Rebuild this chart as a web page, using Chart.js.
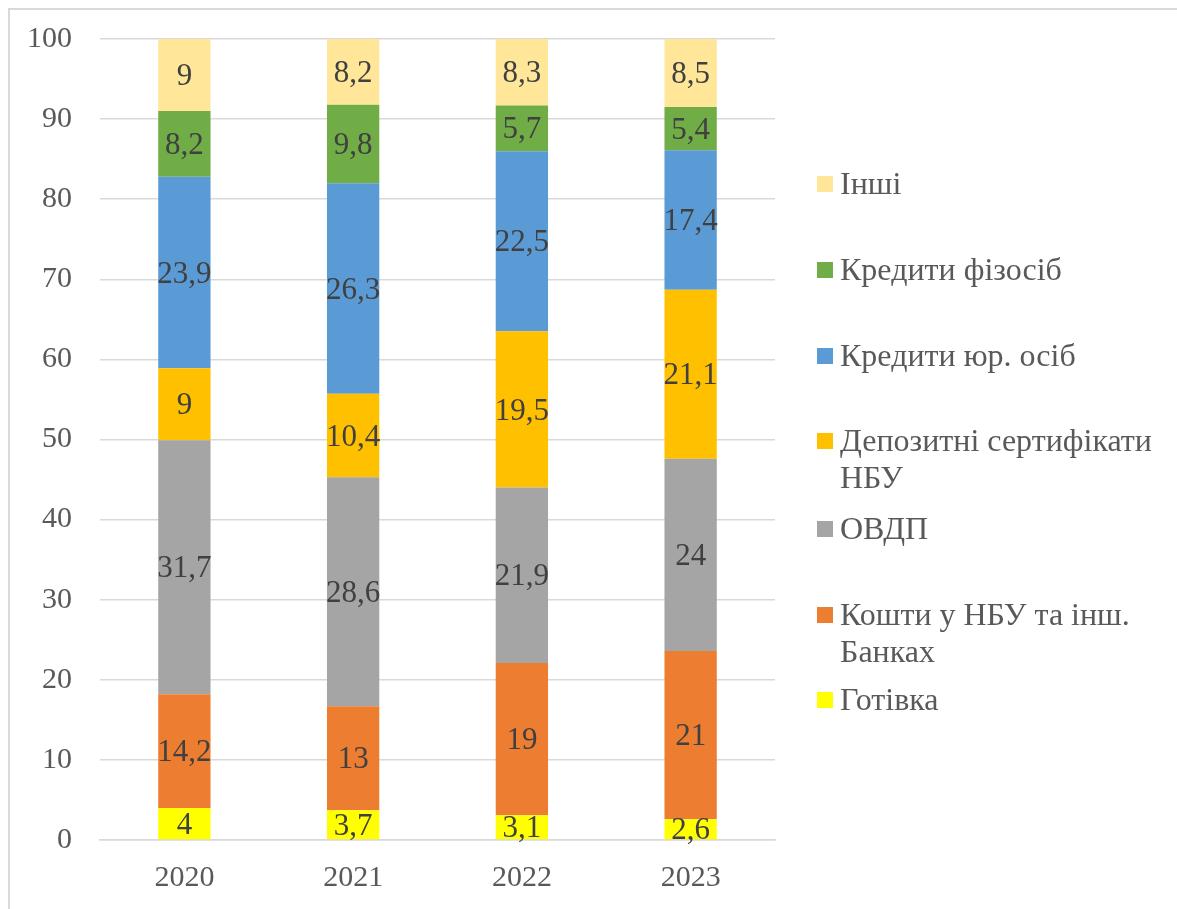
<!DOCTYPE html>
<html>
<head>
<meta charset="utf-8">
<script src="https://cdn.jsdelivr.net/npm/chart.js@4.4.0/dist/chart.umd.min.js"></script>
<style>
  html, body { margin: 0; padding: 0; background: #fff; overflow: hidden; }
  #wrap { position: relative; width: 1177px; height: 909px; }
  #frame { position: absolute; left: 8px; top: 8px; width: 1200px; height: 950px; border: 2px solid #d9d9d9; box-sizing: border-box; }
  canvas { position: absolute; left: 0; top: 0; }
</style>
</head>
<body>
<div id="wrap">
  <div id="frame"></div>
  <canvas id="myChart" width="1177" height="909"></canvas>
</div>
<script>
// categories and series (percent of assets)
const years = ["2020", "2021", "2022", "2023"];
const cash = [4, 3.7, 3.1, 2.6];
const nbuFunds = [14.2, 13, 19, 21];
const bonds = [31.7, 28.6, 21.9, 24];
const certificates = [9, 10.4, 19.5, 21.1];
const corpLoans = [23.9, 26.3, 22.5, 17.4];
const retailLoans = [8.2, 9.8, 5.7, 5.4];
const other = [9, 8.2, 8.3, 8.5];
const yTicks = [0, 10, 20, 30, 40, 50, 60, 70, 80, 90, 100];

const seriesNames = [
  ["Готівка"],
  ["Кошти у НБУ та інш.", "Банках"],
  ["ОВДП"],
  ["Депозитні сертифікати", "НБУ"],
  ["Кредити юр. осіб"],
  ["Кредити фізосіб"],
  ["Інші"]
];
const colors = ["#FFFF00", "#ED7D31", "#A5A5A5", "#FFC000", "#5B9BD5", "#70AD47", "#FFE699"];
const seriesData = [cash, nbuFunds, bonds, certificates, corpLoans, retailLoans, other];

const FONT = "'Liberation Serif', 'Times New Roman', serif";

// legend centre positions (top entry first)
const legendY = [184, 270, 356, 441, 529, 615, 700];

const valueLabels = {
  id: 'valueLabels',
  afterDatasetsDraw(chart) {
    const ctx = chart.ctx;
    ctx.save();
    ctx.font = "31px " + FONT;
    ctx.fillStyle = "#404040";
    ctx.textAlign = "center";
    ctx.textBaseline = "middle";
    chart.data.datasets.forEach((ds, i) => {
      chart.getDatasetMeta(i).data.forEach((bar, j) => {
        const txt = String(ds.data[j]).replace(".", ",");
        ctx.fillText(txt, bar.x, (bar.y + bar.base) / 2 + 2);
      });
    });
    ctx.restore();
  }
};

const sideLegend = {
  id: 'sideLegend',
  afterDraw(chart) {
    const ctx = chart.ctx;
    ctx.save();
    ctx.font = "32px " + FONT;
    ctx.textBaseline = "middle";
    ctx.textAlign = "left";
    const n = chart.data.datasets.length;
    for (let k = 0; k < n; k++) {
      const idx = n - 1 - k;
      const ds = chart.data.datasets[idx];
      const y = legendY[k];
      ctx.fillStyle = ds.backgroundColor;
      ctx.fillRect(817, y - 8, 16, 16);
      ctx.fillStyle = "#595959";
      seriesNames[idx].forEach((line, li) => {
        ctx.fillText(line, 840, y + 2 + li * 37);
      });
    }
    ctx.restore();
  }
};

const ctx = document.getElementById('myChart').getContext('2d');
const chart = new Chart(ctx, {
  type: 'bar',
  data: {
    labels: years,
    datasets: seriesData.map((d, i) => ({
      label: seriesNames[i].join(" "),
      data: d,
      backgroundColor: colors[i],
      borderWidth: 0,
      categoryPercentage: 1,
      barPercentage: 0.31
    }))
  },
  options: {
    responsive: false,
    animation: false,
    layout: { padding: { top: 39, right: 402, bottom: 0, left: 0 } },
    plugins: {
      legend: { display: false },
      tooltip: { enabled: false }
    },
    scales: {
      x: {
        stacked: true,
        grid: { display: false, drawTicks: false },
        border: { color: "#d9d9d9", width: 1.5 },
        ticks: { color: "#595959", font: { family: FONT, size: 30 }, padding: 20 },
        afterFit: s => { s.height = 69; }
      },
      y: {
        stacked: true,
        min: 0,
        max: 100,
        grid: { color: "#d9d9d9", lineWidth: 1.5, drawTicks: false },
        border: { display: false },
        afterBuildTicks: s => { s.ticks = yTicks.map(v => ({ value: v })); },
        ticks: { color: "#595959", font: { family: FONT, size: 30 }, padding: 28 },
        afterFit: s => { s.width = 100; s.paddingTop = 0; s.paddingBottom = 0; }
      }
    }
  },
  plugins: [valueLabels, sideLegend]
});
</script>
</body>
</html>
